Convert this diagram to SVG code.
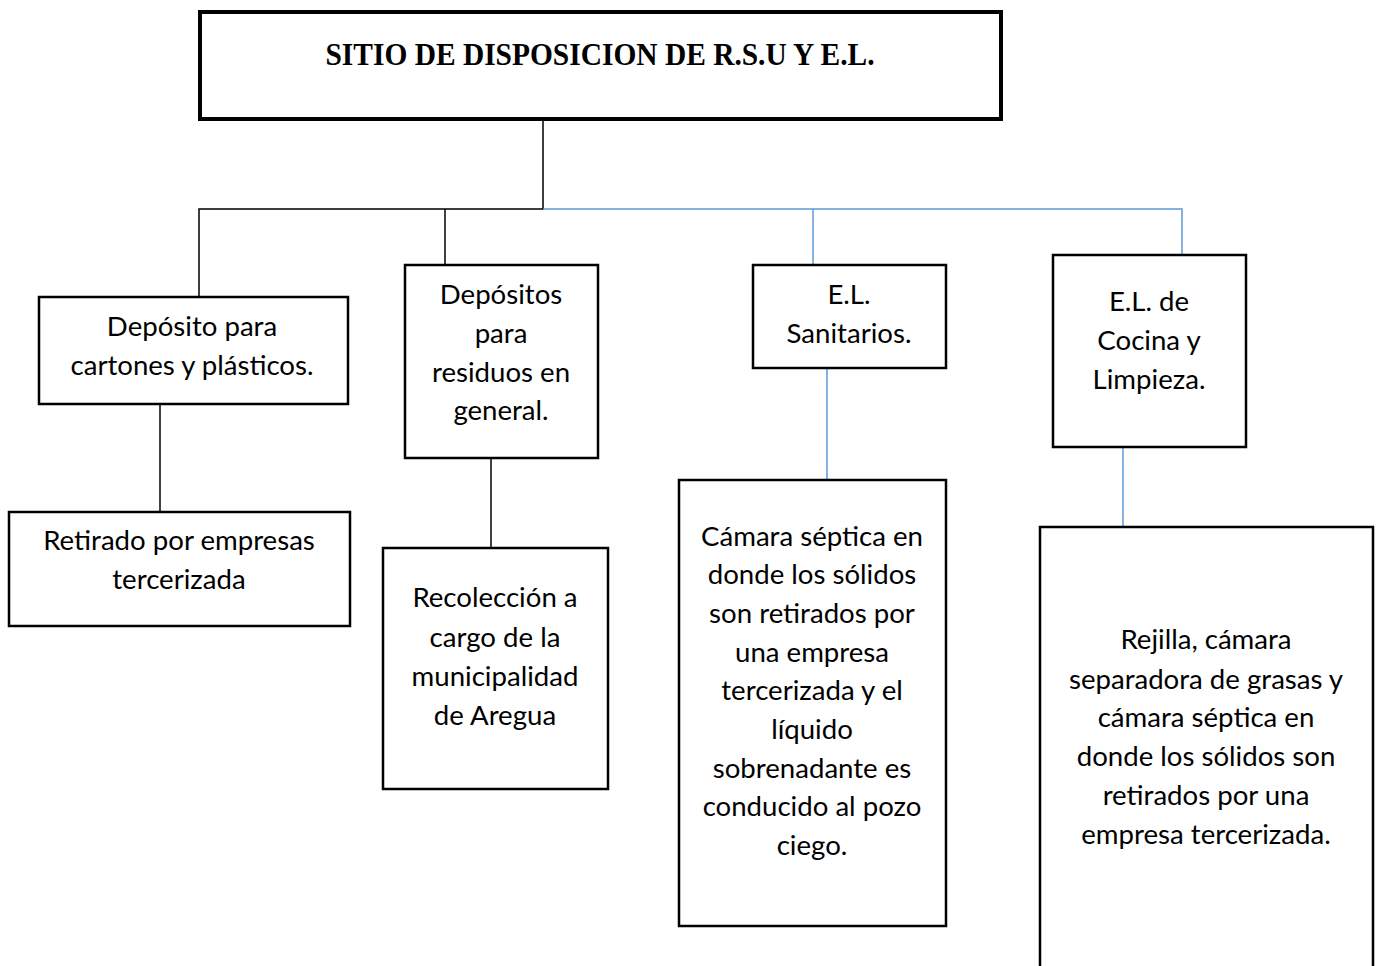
<svg xmlns="http://www.w3.org/2000/svg" width="1376" height="966" viewBox="0 0 1376 966">
<style>
.box{fill:#fff;stroke:#000;stroke-width:2.5}
.t{font-family:Lato,"Open Sans","Liberation Sans",sans-serif;font-size:27.6px;fill:#000;text-anchor:middle}
.k{stroke:#000;stroke-width:1.5;fill:none}
.b{stroke:#5B9BD5;stroke-width:1.5;fill:none}
</style>
<rect width="1376" height="966" fill="#fff"/>
<g id="connectors">
<path class="k" d="M543,121 V209 H199 V297"/>
<path class="k" d="M445,209 V265"/>
<path class="b" d="M543,209 H1182 V255"/>
<path class="b" d="M813,209 V265"/>
<path class="k" d="M160,404 V512"/>
<path class="k" d="M491,458 V548"/>
<path class="b" d="M827,368 V480"/>
<path class="b" d="M1123,447 V527"/>
</g>
<g id="root">
<rect x="200" y="12" width="801" height="107" fill="#fff" stroke="#000" stroke-width="4"/>
<text x="600" y="65" font-family="'Liberation Serif','Times New Roman',serif" font-weight="bold" font-size="32" text-anchor="middle" textLength="549" lengthAdjust="spacingAndGlyphs">SITIO DE DISPOSICION DE R.S.U Y E.L.</text>
</g>
<g id="n1">
<rect class="box" x="39" y="297" width="309" height="107"/>
<text class="t" x="192" y="336">Depósito para</text>
<text class="t" x="192" y="375">cartones y plásticos.</text>
</g>
<g id="n2">
<rect class="box" x="405" y="265" width="193" height="193"/>
<text class="t" x="501" y="304">Depósitos</text>
<text class="t" x="501" y="343">para</text>
<text class="t" x="501" y="382">residuos en</text>
<text class="t" x="501" y="420">general.</text>
</g>
<g id="n3">
<rect class="box" x="753" y="265" width="193" height="103"/>
<text class="t" x="849" y="304">E.L.</text>
<text class="t" x="849" y="343">Sanitarios.</text>
</g>
<g id="n4">
<rect class="box" x="1053" y="255" width="193" height="192"/>
<text class="t" x="1149" y="311">E.L. de</text>
<text class="t" x="1149" y="350">Cocina y</text>
<text class="t" x="1149" y="389">Limpieza.</text>
</g>
<g id="n5">
<rect class="box" x="9" y="512" width="341" height="114"/>
<text class="t" x="179" y="550">Retirado por empresas</text>
<text class="t" x="179" y="589">tercerizada</text>
</g>
<g id="n6">
<rect class="box" x="383" y="548" width="225" height="241"/>
<text class="t" x="495" y="607">Recolección a</text>
<text class="t" x="495" y="647">cargo de la</text>
<text class="t" x="495" y="686">municipalidad</text>
<text class="t" x="495" y="725">de Aregua</text>
</g>
<g id="n7">
<rect class="box" x="679" y="480" width="267" height="446"/>
<text class="t" x="812" y="546">Cámara séptica en</text>
<text class="t" x="812" y="584">donde los sólidos</text>
<text class="t" x="812" y="623">son retirados por</text>
<text class="t" x="812" y="662">una empresa</text>
<text class="t" x="812" y="700">tercerizada y el</text>
<text class="t" x="812" y="739">líquido</text>
<text class="t" x="812" y="778">sobrenadante es</text>
<text class="t" x="812" y="816">conducido al pozo</text>
<text class="t" x="812" y="855">ciego.</text>
</g>
<g id="n8">
<rect class="box" x="1040" y="527" width="333" height="450"/>
<text class="t" x="1206" y="649">Rejilla, cámara</text>
<text class="t" x="1206" y="689">separadora de grasas y</text>
<text class="t" x="1206" y="727">cámara séptica en</text>
<text class="t" x="1206" y="766">donde los sólidos son</text>
<text class="t" x="1206" y="805">retirados por una</text>
<text class="t" x="1206" y="844">empresa tercerizada.</text>
</g>
</svg>
